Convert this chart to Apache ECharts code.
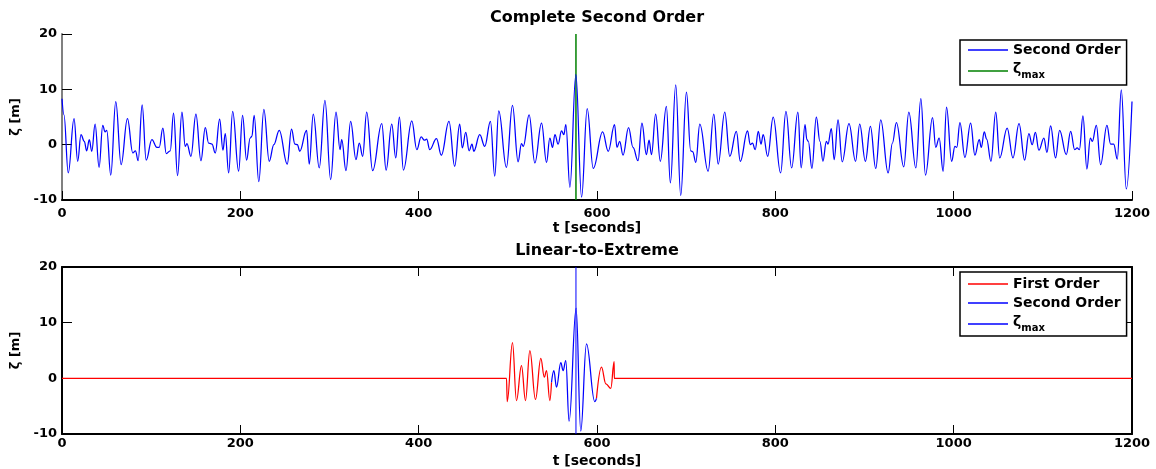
<!DOCTYPE html>
<html>
<head>
<meta charset="utf-8">
<title>Complete Second Order / Linear-to-Extreme</title>
<script src="https://cdn.jsdelivr.net/npm/echarts@6.0.0/dist/echarts.min.js"></script>
<style>
  html, body { margin: 0; padding: 0; background: #fff; }
  #chart { width: 1156px; height: 469px; }
</style>
</head>
<body>
<div id="chart"></div>
<script>
// Time axis
const timeMin = 0;
const timeMax = 1200;
const timeStep = 200;
// Elevation axis
const zetaMin = -10;
const zetaMax = 20;
const zetaStep = 10;

// Complete second order record (read peak by peak)
const topTime = [
    0, 2.2, 7, 13.5, 17.6, 21.3, 25, 27.7, 30.6, 33.4, 37.1, 41.6, 45.7, 48.3, 50.2, 54.7,
    60.3, 66.3, 73.4, 79.4, 82.4, 85.4, 89.9, 94.4, 100.8, 106.4, 109, 113.1, 116.9, 121.4,
    125.1, 129.6, 134.5, 138.2, 140.1, 144.6, 150.2, 155.8, 160.7, 164.4, 168.2, 171.9,
    176.8, 180.5, 183.1, 186.9, 191.4, 198.1,
    202.5, 207, 211, 213, 215.5, 220.7, 226.4, 232.4, 237.6, 243.6, 252.6, 257.4, 261.2,
    264, 266.6, 274.3, 277.3, 281.8, 288.5, 294.9, 301.3, 307.3, 311.8, 313.7, 318.5, 323.7,
    329.7, 333.4, 337.2, 341.7, 348.4, 358.6, 363.5, 369.8, 374.3, 378.4, 382.9, 392.3,
    397.9, 402.8, 406.5, 409, 412.4,
    420, 425.4, 434, 440.4, 446, 449, 452.8, 456.6, 459.8, 461.8, 468.5, 474.1, 480.5, 485.3,
    489.8, 498.4, 505.2, 511.5, 515.3, 517.3, 523.9, 530.3, 537.8, 543.4, 547.1, 550.1,
    552.8, 556.4, 560.2, 562.8, 565.1, 569.6, 576.3, 582.7, 589, 595.8, 606.3, 612.6,
    619.7, 622.4, 625.4, 629.2, 635.4, 640.4, 646, 650.4, 655.4, 658.4, 661.1, 665.8, 671,
    677.8, 682.3, 688.3, 693.9, 700.3, 705.1, 707.4, 710.8, 715.3, 724.6, 731, 735.9, 743.3,
    748.9, 756.3, 760.7, 768.8, 771.9, 774.4, 777.4, 780.9, 783.9, 786.4, 791.4, 797.6,
    805.9, 811.9, 818.3, 825.3, 829,
    833.3, 835.4, 837, 841, 846, 850, 853.4, 857.2, 859, 862.8, 866, 870.3, 875, 882.6, 890,
    894.6, 901, 906.6, 912.6, 918.2, 926.5, 931.3, 935.8, 944, 949.7, 957.6, 963.2, 968.4,
    976.3, 979.9, 983.7, 988.2, 992, 997.7, 1001.4, 1003.5, 1007, 1012.6, 1019, 1023.8,
    1028.7, 1031, 1034.3, 1037, 1041.8, 1047.2,
    1051.6, 1060, 1066.5, 1073.3, 1079.6, 1084.4, 1088, 1091.6, 1095.6, 1101.2, 1104.6,
    1108.7, 1114.3, 1118.8, 1126.3, 1131.2, 1135.7, 1138.5, 1141, 1145, 1149.4, 1153.3,
    1155.5, 1160, 1164.8, 1171.9, 1176, 1179.5, 1183.5, 1188, 1193.6, 1200
];
const topZeta = [
    8.3, 5.4, -5.1, 4.7, -3.0, 1.8, 0.6, -1.1, 0.9, -1.2, 3.7, -4.1, 3.5, 2.3, 2.6, -5.5,
    7.8, -3.6, 4.7, -1.5, -1.1, -2.9, 7.2, -2.8, 0.9, -0.5, -0.5, 3.0, -1.6, -1.1,
    5.7, -5.6, 5.9, -0.3, 0.2, -2.1, 5.5, -2.9, 3.1, 0.3, 0.1, -1.5,
    4.6, -1.0, 2.0, -5.1, 6.0, -4.8,
    5.3, -2.8, 1.2, 1.5, 5.3, -6.7, 6.4, -3.0, 0, 2.6, -3.5, 2.8, 0.1,
    0, -1.2, 2.6, -3.5, 5.5, -4.2, 8.0, -6.3, 5.9, -0.9, 0.9, -4.7, 4.2,
    -2.7, 0.3, -2.1, 5.9, -4.7, 3.8, -4.6, 3.7, -2.4, 5.0, -4.6, 4.3,
    -0.9, 1.4, 0.8, 1.0, -0.9,
    1.1, -1.9, 4.2, -3.9, 3.7, -0.6, 2.2, -1.1, 0.1, -1.2, 1.8, -0.3, 4.2, -5.7,
    6.1, -4.1, 7.1, -3.1, 0.2, -0.3, 5.4, -3.3, 3.9, -3.2, 1.2, -0.5,
    1.8, 0.1, 2.5, 1.8, 3.6, -7.7, 12.7, -9.5, 6.5, -4.3, 2.3, -1.2,
    3.6, -0.5, 0.6, -1.9, 3.1, -0.5, -2.9, 3.9, -1.8, 0.8, -1.8, 5.5, -3.0,
    6.9, -6.9, 10.8, -9.2, 9.5, -1.1, -1.3, -3.2, 3.7, -4.8, 5.5, -3.5, 5.9,
    -2.1, 2.4, -3.0, 2.5, 0, 0.3, -0.9, 2.4, 0.1, 1.8, -2.1, 5.0,
    -5.1, 6.0, -4.2, 5.9, -4.2,
    3.6, 0.9, 0.6, -4.3, 5.0, 0.6, -3.0, 0.6, 0.1, 2.9, -2.7, 4.5, -3.1, 3.8, -3.0,
    3.7, -3.0, 3.3, -4.3, 4.5, -5.1, 0.3, 4.0, -4.0, 5.9, -4.2, 8.3, -5.5,
    4.9, -0.5, 1.2, -4.8, 6.8, -3.0, -0.3, -0.5, 4.0, -2.3, 3.9, -1.9,
    0.9, -0.5, 2.3, 1.0, -3.0, 5.9,
    -2.4, 3.0, -2.4, 3.8, -2.8, 2.0, 0, 2.2, -1.0, 1.2, -1.4,
    3.4, -2.4, 2.6, -1.8, 2.4, -0.9, -0.6, -0.9, 5.2, -4.4, 1.2,
    0.6, 3.5, -3.6, 3.5, 0.1, 0.1, -2.6, 9.9, -8.0, 7.8
];

// Linear-to-extreme: first order part before and after the extreme window
const firstTimeA = [0, 498.5, 499.3, 505.2, 509.7, 515.3, 519.8, 524.7, 531, 537, 540.9, 543.4, 547.1, 549];
const firstZetaA = [0, 0, -4.2, 6.4, -4.0, 2.3, -4.0, 5.0, -3.8, 3.6, 0.2, 1.4, -4.0, -0.7];
const firstTimeB = [599.4, 605, 610, 615.5, 619.2, 619.4, 1200];
const firstZetaB = [-3.6, 2.0, -1.0, -1.8, 3.0, 0, 0];

// Linear-to-extreme: second order window
const secondTime = [549, 551.6, 554.6, 559.4, 562, 565, 568.7, 576.6, 581.8, 588.2, 597.5, 599.4];
const secondZeta = [-0.7, 1.4, -1.6, 2.8, 1.4, 3.2, -7.7, 12.6, -9.5, 6.2, -4.2, -3.6];

// Time of the maximum crest
const zetaMaxTime = 576.4;

function pairs(ts, zs) {
    const out = [];
    for (let i = 0; i < Math.min(ts.length, zs.length); i++) out.push([ts[i], zs[i]]);
    return out;
}

const FONT = 'DejaVu Sans';
const labelStyle = { color: '#000', fontFamily: FONT, fontWeight: 'bold', fontSize: 13 };
const nameStyle = { color: '#000', fontFamily: FONT, fontWeight: 'bold', fontSize: 14 };

function timeAxis(grid, labelMargin, extra) {
    return Object.assign({
        gridIndex: grid,
        type: 'value',
        min: timeMin, max: timeMax, interval: timeStep,
        axisLine: { show: true, onZero: false, lineStyle: { color: '#000', width: 2 } },
        axisTick: { show: true, inside: true, length: 9, lineStyle: { color: '#000', width: 1 } },
        axisLabel: Object.assign({ margin: labelMargin, formatter: v => String(v) }, labelStyle),
        splitLine: { show: false },
        name: 't [seconds]',
        nameLocation: 'middle',
        nameGap: 20,
        nameTextStyle: nameStyle
    }, extra || {});
}

function zetaAxis(grid, lineColor, extra) {
    return Object.assign({
        gridIndex: grid,
        type: 'value',
        min: zetaMin, max: zetaMax, interval: zetaStep,
        axisLine: { show: true, onZero: false, lineStyle: { color: lineColor, width: 2 } },
        axisTick: { show: true, inside: true, length: 10, lineStyle: { color: '#000', width: 1 } },
        axisLabel: Object.assign({ margin: 5 }, labelStyle),
        splitLine: { show: false },
        name: 'ζ [m]',
        nameLocation: 'middle',
        nameGap: 37,
        nameRotate: 90,
        nameTextStyle: Object.assign({}, nameStyle, { fontSize: 13 })
    }, extra || {});
}

const mirror = { name: '', axisLabel: { show: false } };

const legendBase = {
    orient: 'vertical',
    left: 960,
    icon: 'rect',
    itemWidth: 40,
    itemHeight: 1.5,
    backgroundColor: '#fff',
    borderColor: '#000',
    borderWidth: 1.5,
    borderRadius: 0,
    textStyle: {
        color: '#000', fontFamily: FONT, fontWeight: 'bold', fontSize: 14,
        rich: {
            z: { color: '#000', fontFamily: FONT, fontWeight: 'bold', fontSize: 14, verticalAlign: 'bottom', padding: [0, 0, 4, 0] },
            s: { color: '#000', fontFamily: FONT, fontWeight: 'bold', fontSize: 10, verticalAlign: 'bottom' }
        }
    },
    formatter: function (name) {
        const n = name.trim();
        return n === 'ζmax' ? '{z|ζ}{s|max}' : n;
    }
};

const line = (color, width) => ({
    type: 'line',
    symbol: 'none',
    showSymbol: false,
    color: color,
    lineStyle: { color: color, width: width },
    itemStyle: { color: color },
    emphasis: { disabled: true }
});

const chart = echarts.init(document.getElementById('chart'), null, { renderer: 'canvas' });
chart.setOption({
    animation: false,
    backgroundColor: '#fff',
    title: [
        { text: 'Complete Second Order', left: 597, top: 10, textAlign: 'center', padding: 0,
          textStyle: { color: '#000', fontFamily: FONT, fontWeight: 'bold', fontSize: 16 } },
        { text: 'Linear-to-Extreme', left: 597, top: 243, textAlign: 'center', padding: 0,
          textStyle: { color: '#000', fontFamily: FONT, fontWeight: 'bold', fontSize: 16 } }
    ],
    grid: [
        { left: 62, right: 24, top: 34, height: 166 },
        { left: 62, right: 24, top: 267, height: 168 }
    ],
    xAxis: [
        timeAxis(0, 7),
        timeAxis(1, 3),
        timeAxis(1, 3, Object.assign({ position: 'top' }, mirror))
    ],
    yAxis: [
        zetaAxis(0, '#808080'),
        zetaAxis(1, '#000'),
        zetaAxis(1, '#000', Object.assign({ position: 'right' }, mirror))
    ],
    legend: [
        Object.assign({}, legendBase, {
            top: 40, itemGap: 5, padding: [3, 6, 5, 8],
            data: ['Second Order', 'ζmax']
        }),
        Object.assign({}, legendBase, {
            top: 272, itemGap: 5, padding: [5, 6, 3, 8],
            data: ['First Order', 'Second Order ', 'ζmax ']
        })
    ],
    series: [
        Object.assign(line('#008000', 1.5), {
            name: 'ζmax', xAxisIndex: 0, yAxisIndex: 0,
            data: [[zetaMaxTime, zetaMin], [zetaMaxTime, zetaMax]]
        }),
        Object.assign(line('#0000ff', 1.25), {
            name: 'Second Order', xAxisIndex: 0, yAxisIndex: 0,
            smooth: 0.4, smoothMonotone: 'x',
            data: pairs(topTime, topZeta)
        }),
        Object.assign(line('#ff0000', 1.25), {
            name: 'First Order', xAxisIndex: 1, yAxisIndex: 1,
            smooth: 0.4, smoothMonotone: 'x',
            data: pairs(firstTimeA, firstZetaA)
        }),
        Object.assign(line('#ff0000', 1.25), {
            name: 'First Order', xAxisIndex: 1, yAxisIndex: 1,
            smooth: 0.4, smoothMonotone: 'x',
            data: pairs(firstTimeB, firstZetaB)
        }),
        Object.assign(line('#0000ff', 1.25), {
            name: 'Second Order ', xAxisIndex: 1, yAxisIndex: 1,
            smooth: 0.4, smoothMonotone: 'x',
            data: pairs(secondTime, secondZeta)
        }),
        Object.assign(line('#0000ff', 1), {
            name: 'ζmax ', xAxisIndex: 1, yAxisIndex: 1,
            data: [[zetaMaxTime, zetaMin], [zetaMaxTime, zetaMax]]
        })
    ]
});

window.addEventListener('resize', function () {
    chart.resize();
});
</script>
</body>
</html>
